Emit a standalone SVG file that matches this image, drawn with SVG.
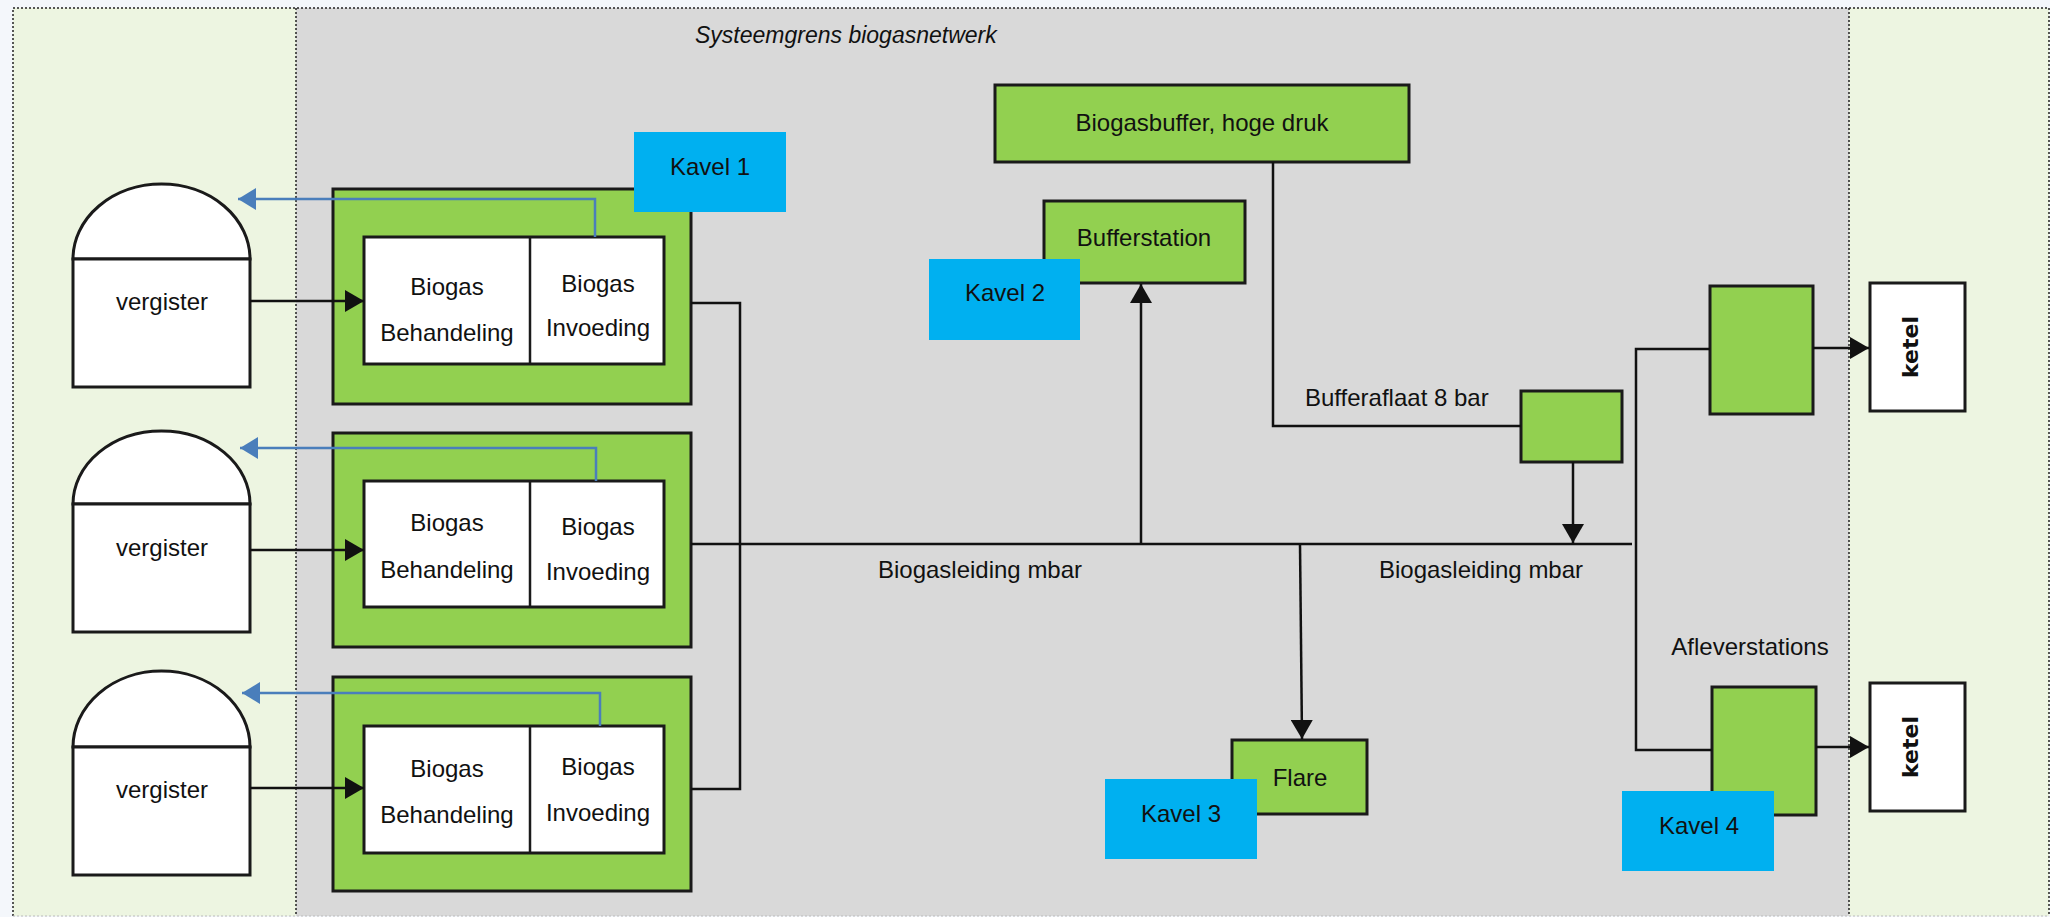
<svg xmlns="http://www.w3.org/2000/svg" width="2050" height="917" viewBox="0 0 2050 917">
<style>
.t{font-family:"Liberation Sans",Arial,sans-serif;font-size:24px;fill:#111;text-anchor:middle}
.ti{font-family:"Liberation Sans",Arial,sans-serif;font-size:23px;font-style:italic;fill:#111}
.kt{font-family:"DejaVu Sans",sans-serif;font-size:22px;font-weight:bold;fill:#111;text-anchor:middle}
.g{fill:#92D050;stroke:#1a1a1a;stroke-width:3}
.w{fill:#fff;stroke:#1a1a1a;stroke-width:3}
.k{fill:#00B0F0}
.ln{fill:none;stroke:#111;stroke-width:2.5}
.bl{fill:none;stroke:#4A7EBB;stroke-width:2.5}
.dot{fill:none;stroke:#222;stroke-width:1.5;stroke-dasharray:2 2}
</style>
<defs>
<marker id="ah" markerUnits="userSpaceOnUse" markerWidth="20" markerHeight="22" refX="19" refY="11" orient="auto">
<path d="M0,0 L19,11 L0,22 Z" fill="#111"/>
</marker>
<marker id="ahb" markerUnits="userSpaceOnUse" markerWidth="19" markerHeight="22" refX="18" refY="11" orient="auto">
<path d="M0,0 L18,11 L0,22 Z" fill="#4A7EBB"/>
</marker>
</defs>
<rect x="0" y="0" width="2050" height="917" fill="#F4F7FB"/>
<g id="panels">
<rect x="13" y="8" width="283" height="908" fill="#EDF5E1"/>
<rect x="296" y="8" width="1553" height="908" fill="#D9D9D9"/>
<rect x="1849" y="8" width="200" height="908" fill="#EDF5E1"/>
<path class="dot" d="M13,916 V8 H2049 V916"/>
<path class="dot" d="M296,8 V916 M1849,8 V916"/>
<path d="M13,916 H2049" fill="none" stroke="#bbb" stroke-width="1" stroke-dasharray="2 2"/>
<text class="ti" x="695" y="43">Systeemgrens biogasnetwerk</text>
</g>
<g id="vergister1">
<path class="w" d="M73,259 A88.5,75 0 0 1 250,259 Z"/>
<rect class="w" x="73" y="259" width="177" height="128"/>
<text class="t" x="162" y="310">vergister</text>
</g>
<g id="vergister2">
<path class="w" d="M73,504 A88.5,73 0 0 1 250,504 Z"/>
<rect class="w" x="73" y="504" width="177" height="128"/>
<text class="t" x="162" y="556">vergister</text>
</g>
<g id="vergister3">
<path class="w" d="M73,747 A88.5,76 0 0 1 250,747 Z"/>
<rect class="w" x="73" y="747" width="177" height="128"/>
<text class="t" x="162" y="798">vergister</text>
</g>
<g id="unit1">
<rect class="g" x="333" y="189" width="358" height="215"/>
<rect class="w" x="364" y="237" width="300" height="127"/>
<line x1="530" y1="237" x2="530" y2="364" stroke="#1a1a1a" stroke-width="2.5"/>
<text class="t" x="447" y="295">Biogas</text>
<text class="t" x="447" y="341">Behandeling</text>
<text class="t" x="598" y="292">Biogas</text>
<text class="t" x="598" y="336">Invoeding</text>
</g>
<g id="unit2">
<rect class="g" x="333" y="433" width="358" height="214"/>
<rect class="w" x="364" y="481" width="300" height="126"/>
<line x1="530" y1="481" x2="530" y2="607" stroke="#1a1a1a" stroke-width="2.5"/>
<text class="t" x="447" y="531">Biogas</text>
<text class="t" x="447" y="578">Behandeling</text>
<text class="t" x="598" y="535">Biogas</text>
<text class="t" x="598" y="580">Invoeding</text>
</g>
<g id="unit3">
<rect class="g" x="333" y="677" width="358" height="214"/>
<rect class="w" x="364" y="726" width="300" height="127"/>
<line x1="530" y1="726" x2="530" y2="853" stroke="#1a1a1a" stroke-width="2.5"/>
<text class="t" x="447" y="777">Biogas</text>
<text class="t" x="447" y="823">Behandeling</text>
<text class="t" x="598" y="775">Biogas</text>
<text class="t" x="598" y="821">Invoeding</text>
</g>
<g id="biogasbuffer">
<rect class="g" x="995" y="85" width="414" height="77"/>
<text class="t" x="1202" y="131">Biogasbuffer, hoge druk</text>
</g>
<g id="bufferstation">
<rect class="g" x="1044" y="201" width="201" height="82"/>
<text class="t" x="1144" y="246">Bufferstation</text>
</g>
<g id="flare">
<rect class="g" x="1232" y="740" width="135" height="74"/>
<text class="t" x="1300" y="786">Flare</text>
</g>
<g id="bufferaflaat">
<rect class="g" x="1521" y="391" width="101" height="71"/>
<text class="t" x="1305" y="406" style="text-anchor:start">Bufferaflaat 8 bar</text>
</g>
<g id="afleverstation1">
<rect class="g" x="1710" y="286" width="103" height="128"/>
</g>
<g id="afleverstation2">
<rect class="g" x="1712" y="687" width="104" height="128"/>
<text class="t" x="1750" y="655">Afleverstations</text>
</g>
<g id="ketel1">
<rect class="w" x="1870" y="283" width="95" height="128"/>
<text class="kt" transform="translate(1918,347) rotate(-90)">ketel</text>
</g>
<g id="ketel2">
<rect class="w" x="1870" y="683" width="95" height="128"/>
<text class="kt" transform="translate(1918,747) rotate(-90)">ketel</text>
</g>
<g id="connectors">
<line class="ln" x1="250" y1="301" x2="364" y2="301" marker-end="url(#ah)"/>
<line class="ln" x1="250" y1="550" x2="364" y2="550" marker-end="url(#ah)"/>
<line class="ln" x1="250" y1="788" x2="364" y2="788" marker-end="url(#ah)"/>
<path class="bl" d="M595,237 V199 H238" marker-end="url(#ahb)"/>
<path class="bl" d="M596,481 V448 H240" marker-end="url(#ahb)"/>
<path class="bl" d="M600,726 V693 H242" marker-end="url(#ahb)"/>
<path class="ln" d="M691,303 H740 V789 H691"/>
<path class="ln" d="M691,544 H1632"/>
<path class="ln" d="M1141,544 V284" marker-end="url(#ah)"/>
<path class="ln" d="M1300,544 L1302,739" marker-end="url(#ah)"/>
<path class="ln" d="M1273,162 V426 H1521"/>
<path class="ln" d="M1573,462 V543" marker-end="url(#ah)"/>
<path class="ln" d="M1710,349 H1636 V750 H1712"/>
<path class="ln" d="M1813,348 H1869" marker-end="url(#ah)"/>
<path class="ln" d="M1816,747 H1869" marker-end="url(#ah)"/>
<text class="t" x="980" y="578">Biogasleiding mbar</text>
<text class="t" x="1481" y="578">Biogasleiding mbar</text>
</g>
<g id="kavel1"><rect class="k" x="634" y="132" width="152" height="80"/><text class="t" x="710" y="175">Kavel 1</text></g>
<g id="kavel2"><rect class="k" x="929" y="259" width="151" height="81"/><text class="t" x="1005" y="301">Kavel 2</text></g>
<g id="kavel3"><rect class="k" x="1105" y="779" width="152" height="80"/><text class="t" x="1181" y="822">Kavel 3</text></g>
<g id="kavel4"><rect class="k" x="1622" y="791" width="152" height="80"/><text class="t" x="1699" y="834">Kavel 4</text></g>
</svg>
